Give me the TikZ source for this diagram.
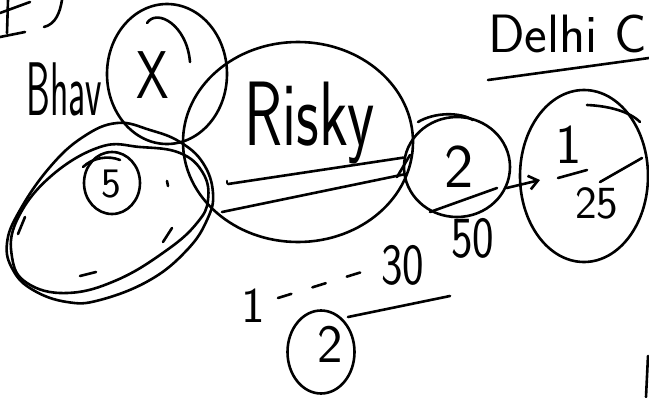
\documentclass[tikz,border=0pt]{standalone}
\usepackage{fontspec}
\usetikzlibrary{shapes.geometric,arrows.meta}
\begin{document}
\begin{tikzpicture}[x=1pt,y=-1pt,
  line width=2.6pt, line cap=round, line join=round,
  ring/.style={ellipse, draw, inner sep=0pt},
  hand/.style={font=\sffamily, inner sep=0pt, anchor=base west}]
\useasboundingbox[fill=white] (0,0) rectangle (649,397);

% fragments of writing cut off at the top-left edge
\draw (0,13) -- (30,2);
\draw (0,37) -- (25,32);
\draw (8,0) -- (7,33);
\draw (44,27) .. controls (56,24) and (60,12) .. (62,0);

% label at the left
\node[hand] (bhav) at (25,115) {\scalebox{0.95}[1.9]{\fontsize{40}{40}\selectfont Bhav}};

% circle with the cross
\node[ring, minimum width=120pt, minimum height=140pt] (xring) at (167,74) {};
\draw (147,23) .. controls (157,8) and (187,25) .. (190,62);
\node[hand] (xlab) at (135,98) {\scalebox{1}[1.3]{\fontsize{52}{52}\selectfont X}};

% large circle: Risky
\node[ring, minimum width=230pt, minimum height=200pt] (risky) at (298,142) {};
\node[hand] (riskylab) at (243,145) {\scalebox{1.03}[1.5]{\fontsize{61}{61}\selectfont Risky}};

% tilted double outline around the small circle 5
\draw plot[smooth cycle, tension=0.7] coordinates {
  (7,243) (20,210) (50,167) (83,137) (117,123) (150,130) (180,142)
  (203,163) (213,193) (207,220) (187,250) (150,280) (100,300)
  (67,302) (33,290) (13,270)};
\draw plot[smooth cycle, tension=0.7] coordinates {
  (17,220) (50,177) (100,147) (140,147) (180,153) (203,173) (208,200)
  (197,223) (167,250) (117,280) (67,293) (27,283) (12,257)};
\node[ring, minimum width=56pt, minimum height=62pt] (fivering) at (112,183) {};
\draw (83,167) .. controls (92,158) and (108,155) .. (120,160);
\node[hand] (fivelab) at (100,197) {\fontsize{42}{42}\selectfont 5};
% small marks inside the outline
\draw (167,181) -- (168,186);
\draw (172,228) -- (163,242);
\draw (80,276) -- (96,272);
\draw (25,217) -- (18,234);
\draw (227,181) -- (227,183);

% two strokes leading to circle 2
\coordinate (lineA) at (228,184);
\coordinate (lineB) at (222,212);
\node[ring, minimum width=106pt, minimum height=100pt] (tworing) at (457,167) {};
\draw (lineA) -- (tworing.170);
\draw (lineB) -- (tworing.188);
\draw (397,177) -- (410,155);
\draw (418,122) .. controls (435,112) and (460,112) .. (473,120);
\node[hand] (twolab) at (443,187) {\fontsize{62}{62}\selectfont 2};
\draw (430,212) -- (497,188);

% arrow to the ellipse holding 1/25
\node[ring, minimum width=128pt, minimum height=172pt] (fracring) at (584,176) {};
\draw (587,105) .. controls (610,106) and (630,112) .. (640,122);
\coordinate (arrtip) at (540,180);
\draw[-{Straight Barb[length=9pt,width=14pt]}] (tworing.-23) -- (arrtip);
\node[hand] (fracnum) at (554,163) {\fontsize{56}{56}\selectfont 1};
\draw (558,178) -- (587,170);
\node[hand] (fracden) at (574,218) {\fontsize{46}{46}\selectfont 25};
\draw (600,182) -- (642,158);

% heading at the top right
\node[hand] (delhi) at (487,52) {\fontsize{54}{54}\selectfont Delhi C};
\coordinate (headL) at (488,80);
\coordinate (headR) at (649,58);
\draw (headL) -- (headR);

% number line 1 ... 30 50
\node[hand] (one) at (240,322) {\fontsize{50}{50}\selectfont 1};
\node[hand] (thirty) at (380,284) {\scalebox{0.88}[1.12]{\fontsize{52}{52}\selectfont 30}};
\node[hand] (fifty) at (450,257) {\scalebox{0.88}[1.12]{\fontsize{52}{52}\selectfont 50}};
\draw[dash pattern=on 14pt off 22pt] (278,298) -- (365,271);
\coordinate (ulL) at (348,317);
\coordinate (ulR) at (450,296);
\draw (ulL) -- (ulR);

% small circle 2 below
\node[ring, minimum width=67pt, minimum height=83pt] (smallring) at (321,352) {};
\node[hand] (smalltwo) at (316,362) {\fontsize{54}{54}\selectfont 2};

% edge stroke at bottom right
\draw (648,356) -- (646,397);
\end{tikzpicture}
\end{document}
